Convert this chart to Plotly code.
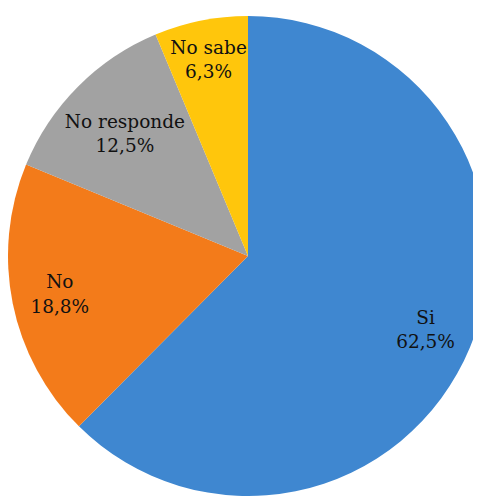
import plotly.graph_objects as go

labels = ["Si", "No", "No responde", "No sabe"]
values = [62.5, 18.8, 12.5, 6.3]
colors = ["#3f87d0", "#f37b1a", "#a2a2a2", "#ffc60c"]

SERIF = "DejaVu Serif"
label_font = dict(family=SERIF, size=18.5, color="#111111")
template = "%{label}<br>%{value:.1f}%"

# Solid pie (no text)
pie_base = go.Pie(
    labels=labels, values=values, sort=False, direction="clockwise", rotation=0,
    marker=dict(colors=colors, line=dict(width=0)),
    textinfo="none", hoverinfo="label+value", showlegend=False,
)

# Transparent overlay pies used only to place the data labels farther out
outer_mask = [template if lab != "No responde" else "" for lab in labels]
inner_mask = [template if lab == "No responde" else "" for lab in labels]

def label_layer(mask, hole):
    return go.Pie(
        labels=labels, values=values, sort=False, direction="clockwise", rotation=0,
        hole=hole,
        marker=dict(colors=["rgba(0,0,0,0)"] * len(labels), line=dict(width=0)),
        texttemplate=mask, textposition="inside", insidetextorientation="horizontal",
        insidetextfont=label_font,
        hoverinfo="skip", showlegend=False,
    )

fig = go.Figure([pie_base, label_layer(outer_mask, 0.6), label_layer(inner_mask, 0.44)])

fig.update_layout(
    width=480, height=488,
    margin=dict(l=0, r=0, t=8, b=0),
    separators=",.",
    font=dict(family=SERIF, size=18.5, color="#111111"),
    paper_bgcolor="white",
    plot_bgcolor="white",
    uniformtext=dict(minsize=18, mode="show"),
    showlegend=False,
)

fig.write_html("out.html")
